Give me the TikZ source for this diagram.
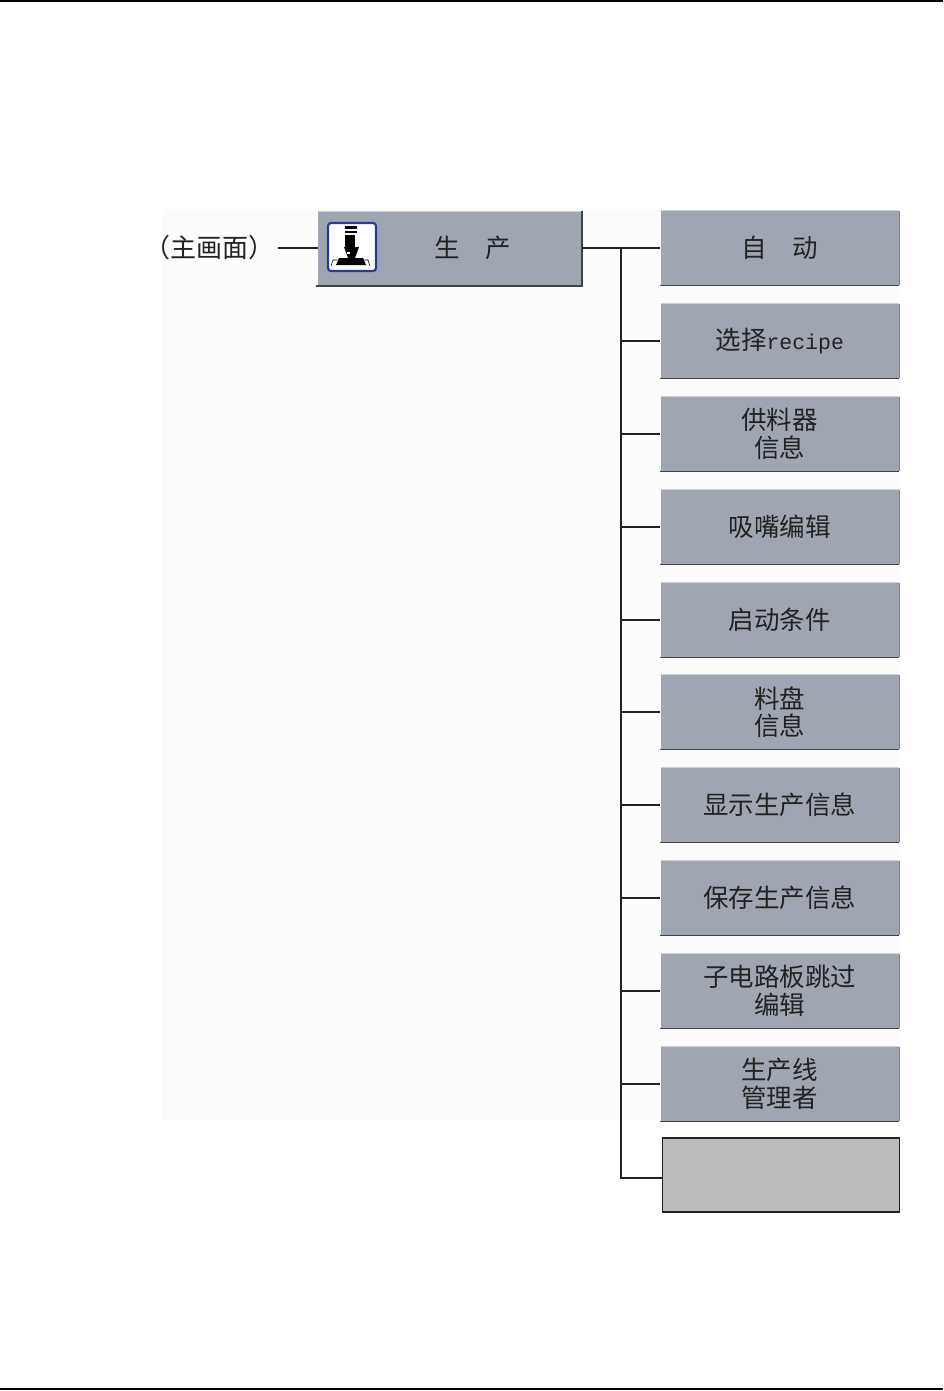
\documentclass[tikz,border=0pt]{standalone}
\usepackage{fontspec}
\setmainfont{Noto Sans CJK SC}
\newfontfamily\monofam{Liberation Mono}
\usetikzlibrary{calc}
\definecolor{btngray}{HTML}{A0A6B1}
\definecolor{btnlight}{HTML}{CDD0D5}
\definecolor{blankgray}{HTML}{BBBCBE}
\definecolor{iconblue}{HTML}{2E3A96}
\definecolor{panelwhite}{HTML}{FCFCFC}
\definecolor{inkdark}{HTML}{222222}
\tikzset{
  btn/.style={fill=btngray, minimum width=238pt, minimum height=74.5pt, inner sep=0pt, align=center, text=inkdark, font=\fontsize{25.5}{27.5}\selectfont},
  link/.style={draw=inkdark, line width=1.1pt},
  edge/.style={draw=inkdark!85, line width=1.6pt}
}

\begin{document}
\begin{tikzpicture}[x=1pt, y=-1pt]
\useasboundingbox (0,0) rectangle (943,1391);
\draw[line width=1.5pt] (0,1) -- (943,1);
\draw[line width=1.5pt] (0,1389) -- (943,1389);
\fill[panelwhite] (162,210) rectangle (899,1120);

\node[btn, minimum width=264pt] (main) at (450,248.5) {};
\draw[btnlight, line width=.8pt] (main.north west) -- (main.north east);
\draw[edge] ($(main.south west)+(-2,0)$) -- (main.south east) -- (main.north east);
\node[text=inkdark, font=\fontsize{25.5}{27.5}\selectfont] (maintext) at (473,247.5) {生　产};
\node[font=\fontsize{26}{28}\selectfont, text=inkdark] (mainlabel) at (209.5,248) {（主画面）};
\draw[link] (mainlabel.east) -- (main.west |- mainlabel.east);

% icon
\node[draw=iconblue, line width=2.2pt, fill=white, rounded corners=3pt, minimum size=48pt, inner sep=0pt] (icon) at (352,247) {};
\fill[black] (345,226) rectangle (357,229);
\fill[black] (345,231) rectangle (357,233);
\fill[black] (345,235) rectangle (355,248);
\fill[black] (344,247) -- (359,247) -- (355,258) -- (348,258) -- cycle;
\fill[white] (347,252) rectangle (350,254);
\fill[black] (339,258) -- (363,258) -- (366,265) -- (336,265) -- cycle;
\draw[black, line width=.6pt] (331,266) -- (333,260) -- (337,260);
\draw[black, line width=.6pt] (364,260) -- (368,260) -- (370,266);

\foreach \name/\y/\txt in {
  auto/248/{自　动},
  recipe/341/{选择{\monofam\fontsize{21.5}{24}\selectfont recipe}},
  feeder/434/{供料器\\信息},
  nozzle/527/{吸嘴编辑},
  start/620/{启动条件},
  tray/712/{料盘\\信息},
  showinfo/805/{显示生产信息},
  saveinfo/898/{保存生产信息},
  skip/991/{子电路板跳过\\编辑},
  manager/1084/{生产线\\管理者}}
{
\node[btn] (\name) at (779.7,\y) {\txt};
\draw[btnlight, line width=.8pt] (\name.north west) -- (\name.north east);
\draw[gray, line width=.8pt] (\name.north east) -- (\name.south east);
\draw[edge] ($(\name.south west)+(-1,0)$) -- (\name.south east);
\coordinate (\name stub) at ($(\name.west)+(-1,0)$);
\draw[link] (621,\y) -- (\name stub);
}

\node[fill=blankgray, draw=inkdark, line width=1.2pt, minimum width=237pt, minimum height=74pt] (blank) at (781,1175) {};

\coordinate (trunk) at (621,248);
\coordinate (blankjoin) at ($(blank.west)+(0,3)$);
\draw[link] (main.east |- auto.west) -- (autostub);
\draw[link] (trunk) |- (blankjoin);
\end{tikzpicture}
\end{document}
